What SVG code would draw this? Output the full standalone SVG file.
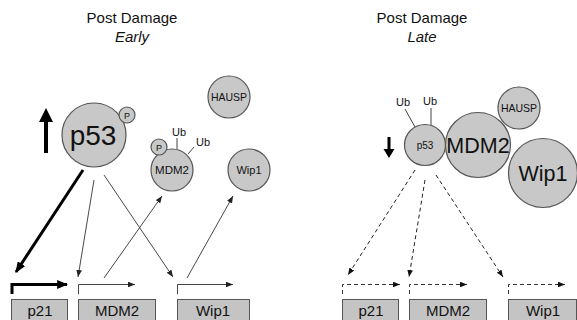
<svg xmlns="http://www.w3.org/2000/svg" width="577" height="320" viewBox="0 0 577 320">
  <defs>
    <marker id="head" viewBox="0 0 10 8" refX="10" refY="4" markerWidth="7" markerHeight="5.6" markerUnits="userSpaceOnUse" orient="auto">
      <path d="M0,0 L10,4 L0,8 Z" fill="#222"/>
    </marker>
    <marker id="headBold" viewBox="0 0 10 8" refX="9" refY="4" markerWidth="11" markerHeight="9" markerUnits="userSpaceOnUse" orient="auto">
      <path d="M0,0 L10,4 L0,8 Z" fill="#000"/>
    </marker>
    <marker id="headDash" viewBox="0 0 10 8" refX="10" refY="4" markerWidth="7" markerHeight="5.6" markerUnits="userSpaceOnUse" orient="auto">
      <path d="M0,0 L10,4 L0,8 Z" fill="#111"/>
    </marker>
  </defs>
  <style>
    text { font-family: "Liberation Sans", Arial, sans-serif; fill: #111; }
    .title { font-size: 15px; text-anchor: middle; }
    .ital { font-style: italic; }
    .mol { fill: #c8c8c8; stroke: #555; stroke-width: 1.2; }
    .lbl { text-anchor: middle; }
    .ub { font-size: 11px; text-anchor: middle; }
    .tail { stroke: #444; stroke-width: 1; fill: none; }
    .gene { fill: #c4c4c4; stroke: #555; stroke-width: 1; }
    .gtxt { font-size: 15px; text-anchor: middle; }
    .thin { stroke: #333; stroke-width: 0.9; fill: none; marker-end: url(#head); }
    .bold { stroke: #000; stroke-width: 3; fill: none; marker-end: url(#headBold); }
    .dash { stroke: #222; stroke-width: 1; fill: none; stroke-dasharray: 4 3; marker-end: url(#headDash); }
    .prom { stroke: #444; stroke-width: 1; fill: none; marker-end: url(#head); }
    .promBold { stroke: #000; stroke-width: 3; fill: none; marker-end: url(#headBold); }
    .promDash { stroke: #333; stroke-width: 1; fill: none; stroke-dasharray: 4 3; marker-end: url(#headDash); }
  </style>

  <rect width="577" height="320" fill="#fff"/>

  <!-- headings -->
  <g id="heading-early">
    <text class="title" x="132" y="23">Post Damage</text>
    <text class="title ital" x="132" y="42">Early</text>
  </g>
  <g id="heading-late">
    <text class="title" x="422" y="23">Post Damage</text>
    <text class="title ital" x="422" y="42">Late</text>
  </g>

  <!-- early phase: proteins -->
  <g id="early-p53-up">
    <path d="M44,153 L44,122 L39,122 L46,108 L53,122 L48,122 L48,153 Z" fill="#000"/>
  </g>
  <g id="early-p53">
    <circle class="mol" cx="94" cy="135" r="32"/>
    <text class="lbl" x="93" y="145" font-size="28">p53</text>
    <circle class="mol" cx="127" cy="115" r="8"/>
    <text class="lbl" x="127" y="118.5" font-size="9">P</text>
  </g>
  <g id="early-hausp">
    <circle class="mol" cx="229" cy="97" r="21"/>
    <text class="lbl" x="229" y="101" font-size="10.5">HAUSP</text>
  </g>
  <g id="early-mdm2">
    <line class="tail" x1="177" y1="149" x2="177" y2="138"/>
    <line class="tail" x1="188" y1="154" x2="194" y2="147"/>
    <text class="ub" x="179" y="136">Ub</text>
    <text class="ub" x="203" y="146">Ub</text>
    <circle class="mol" cx="172" cy="170" r="21"/>
    <text class="lbl" x="172" y="174" font-size="11.5">MDM2</text>
    <circle class="mol" cx="159" cy="147" r="8"/>
    <text class="lbl" x="159" y="150.5" font-size="9">P</text>
  </g>
  <g id="early-wip1">
    <circle class="mol" cx="249" cy="170" r="21"/>
    <text class="lbl" x="249" y="174" font-size="11">Wip1</text>
  </g>

  <!-- early phase: genes -->
  <g id="early-gene-p21">
    <rect class="gene" x="11.5" y="299.5" width="56" height="24"/>
    <text class="gtxt" x="40" y="316">p21</text>
  </g>
  <g id="early-gene-mdm2">
    <rect class="gene" x="78.5" y="299.5" width="77" height="24"/>
    <text class="gtxt" x="117" y="316">MDM2</text>
  </g>
  <g id="early-gene-wip1">
    <rect class="gene" x="177.5" y="299.5" width="72" height="24"/>
    <text class="gtxt" x="213" y="316">Wip1</text>
  </g>

  <!-- late phase: proteins -->
  <g id="late-p53-down">
    <path d="M387.5,137 L387.5,149 L383.5,149 L389,158 L394.5,149 L390.5,149 L390.5,137 Z" fill="#000"/>
  </g>
  <g id="late-p53">
    <line class="tail" x1="415" y1="127" x2="405" y2="109"/>
    <line class="tail" x1="431" y1="125" x2="431" y2="108"/>
    <text class="ub" x="403" y="106">Ub</text>
    <text class="ub" x="430" y="105">Ub</text>
    <circle class="mol" cx="425" cy="145" r="20.5"/>
    <text class="lbl" x="425" y="149" font-size="10">p53</text>
  </g>
  <g id="late-hausp">
    <circle class="mol" cx="519" cy="108" r="21"/>
    <text class="lbl" x="519" y="112" font-size="10.5">HAUSP</text>
  </g>
  <g id="late-mdm2">
    <circle class="mol" cx="478" cy="145" r="32.5"/>
    <text class="lbl" x="478" y="153" font-size="21.5">MDM2</text>
  </g>
  <g id="late-wip1">
    <circle class="mol" cx="543" cy="173" r="34.5"/>
    <text class="lbl" x="543" y="181" font-size="21.5">Wip1</text>
  </g>

  <!-- late phase: genes -->
  <g id="late-gene-p21">
    <rect class="gene" x="342.5" y="299.5" width="56" height="24"/>
    <text class="gtxt" x="371" y="316">p21</text>
  </g>
  <g id="late-gene-mdm2">
    <rect class="gene" x="409.5" y="299.5" width="77" height="24"/>
    <text class="gtxt" x="448" y="316">MDM2</text>
  </g>
  <g id="late-gene-wip1">
    <rect class="gene" x="508.5" y="299.5" width="68" height="24"/>
    <text class="gtxt" x="543" y="316">Wip1</text>
  </g>

  <!-- connectors -->
  <g id="connectors">
    <!-- transcription start sites -->
    <path class="promBold" d="M12,294 L12,284.5 L67,284.5"/>
    <path class="prom" d="M78.5,294 L78.5,284.5 L135,284.5"/>
    <path class="prom" d="M177.5,294 L177.5,284.5 L233,284.5"/>
    <path class="promDash" d="M342.5,294 L342.5,284.5 L400,284.5"/>
    <path class="promDash" d="M409.5,294 L409.5,284.5 L467,284.5"/>
    <path class="promDash" d="M508.5,294 L508.5,284.5 L565,284.5"/>

    <!-- early: p53 drives its targets, products feed back -->
    <line class="bold" x1="83" y1="170" x2="16" y2="272"/>
    <line class="thin" x1="94" y1="180" x2="78" y2="277"/>
    <line class="thin" x1="104" y1="175" x2="173" y2="277"/>
    <line class="thin" x1="104" y1="278" x2="162" y2="196"/>
    <line class="thin" x1="187" y1="278" x2="233" y2="196"/>

    <!-- late: weakened transactivation -->
    <line class="dash" x1="415" y1="170" x2="348" y2="275"/>
    <line class="dash" x1="425" y1="180" x2="409" y2="277"/>
    <line class="dash" x1="436" y1="175" x2="503" y2="277"/>
  </g>
</svg>
